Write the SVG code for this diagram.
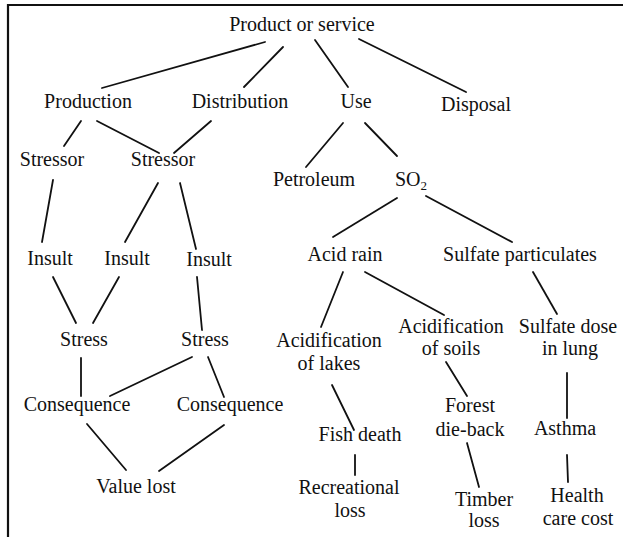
<svg xmlns="http://www.w3.org/2000/svg" width="623" height="537" viewBox="0 0 623 537">
<style>
text{font-family:"Liberation Serif","Times New Roman",serif;font-size:20px;fill:#111;text-anchor:middle}
.c line{stroke:#111;stroke-width:1.8;stroke-linecap:round}
.f{stroke:#111;stroke-width:2.2;fill:none}
</style>
<rect width="623" height="537" fill="#fff"/>
<path class="f" d="M8,537 V5 H623"/>
<g class="c" id="connectors">
<line x1="265" y1="42" x2="102" y2="88"/>
<line x1="283" y1="47" x2="244" y2="87"/>
<line x1="315" y1="40" x2="348" y2="87"/>
<line x1="359" y1="39" x2="466" y2="92"/>
<line x1="81" y1="121" x2="64" y2="146"/>
<line x1="97" y1="121" x2="159" y2="153"/>
<line x1="211" y1="121" x2="174" y2="153"/>
<line x1="343" y1="123" x2="306" y2="167"/>
<line x1="365" y1="123" x2="397" y2="156"/>
<line x1="53" y1="180" x2="42" y2="242"/>
<line x1="158" y1="183" x2="125" y2="242"/>
<line x1="180" y1="183" x2="196" y2="249"/>
<line x1="53" y1="277" x2="76" y2="323"/>
<line x1="119" y1="277" x2="93" y2="323"/>
<line x1="197" y1="277" x2="202" y2="330"/>
<line x1="81" y1="358" x2="81" y2="396"/>
<line x1="192" y1="357" x2="110" y2="396"/>
<line x1="208" y1="357" x2="224" y2="397"/>
<line x1="87" y1="424" x2="126" y2="470"/>
<line x1="224" y1="425" x2="159" y2="471"/>
<line x1="397" y1="198" x2="333" y2="237"/>
<line x1="426" y1="196" x2="512" y2="242"/>
<line x1="343" y1="272" x2="321" y2="327"/>
<line x1="365" y1="272" x2="444" y2="315"/>
<line x1="533" y1="272" x2="557" y2="314"/>
<line x1="332" y1="385" x2="354" y2="430"/>
<line x1="355" y1="455" x2="355" y2="475"/>
<line x1="446" y1="362" x2="467" y2="396"/>
<line x1="467" y1="443" x2="479" y2="487"/>
<line x1="567" y1="373" x2="567" y2="418"/>
<line x1="567" y1="455" x2="568" y2="482"/>
</g>
<g id="product"><text x="302" y="31">Product or service</text></g>
<g id="production"><text x="88" y="108">Production</text></g>
<g id="distribution"><text x="240" y="108">Distribution</text></g>
<g id="use"><text x="356" y="108">Use</text></g>
<g id="disposal"><text x="476" y="111">Disposal</text></g>
<g id="stressor1"><text x="52" y="166">Stressor</text></g>
<g id="stressor2"><text x="163" y="166">Stressor</text></g>
<g id="petroleum"><text x="314" y="186">Petroleum</text></g>
<g id="so2"><text x="411" y="186">SO<tspan font-size="13" dy="4">2</tspan></text></g>
<g id="insult1"><text x="50" y="265">Insult</text></g>
<g id="insult2"><text x="127" y="265">Insult</text></g>
<g id="insult3"><text x="209" y="266">Insult</text></g>
<g id="acidrain"><text x="345" y="261">Acid rain</text></g>
<g id="sulfatepart"><text x="520" y="261">Sulfate particulates</text></g>
<g id="stress1"><text x="84" y="346">Stress</text></g>
<g id="stress2"><text x="205" y="346">Stress</text></g>
<g id="acidlakes"><text x="329" y="347">Acidification</text><text x="329" y="370">of lakes</text></g>
<g id="acidsoils"><text x="451" y="333">Acidification</text><text x="451" y="355">of soils</text></g>
<g id="sulfatedose"><text x="568" y="333">Sulfate dose</text><text x="570" y="355">in lung</text></g>
<g id="consequence1"><text x="77" y="411">Consequence</text></g>
<g id="consequence2"><text x="230" y="411">Consequence</text></g>
<g id="fishdeath"><text x="360" y="441">Fish death</text></g>
<g id="forest"><text x="470" y="412">Forest</text><text x="470" y="436">die-back</text></g>
<g id="asthma"><text x="565" y="435">Asthma</text></g>
<g id="valuelost"><text x="136" y="493">Value lost</text></g>
<g id="recreational"><text x="349" y="494">Recreational</text><text x="350" y="517">loss</text></g>
<g id="timber"><text x="484" y="506">Timber</text><text x="484" y="527">loss</text></g>
<g id="health"><text x="577" y="502">Health</text><text x="578" y="525">care cost</text></g>
</svg>
